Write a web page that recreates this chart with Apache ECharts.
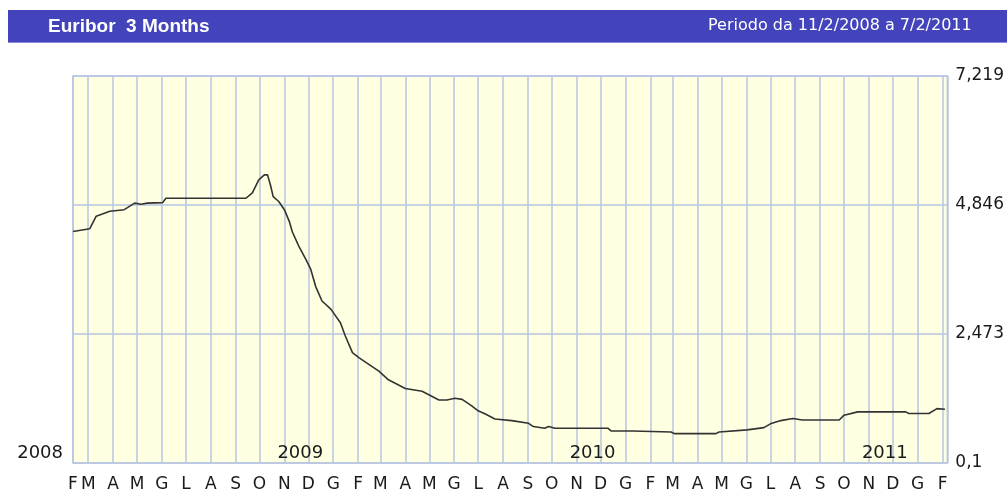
<!DOCTYPE html>
<html>
<head>
<meta charset="utf-8">
<script src="https://cdn.jsdelivr.net/npm/echarts@6/dist/echarts.min.js"></script>
<style>
  html, body { margin: 0; padding: 0; background: #fff; }
  #chart { width: 1007px; height: 493px; }
</style>
</head>
<body>
<div id="chart"></div>
<script>
// Euribor 3 months
const rateDates = [
  '2008-02-11', '2008-03-03', '2008-03-11', '2008-03-28', '2008-04-15', '2008-04-28',
  '2008-05-06', '2008-05-14', '2008-06-02', '2008-06-06', '2008-06-25', '2008-06-27',
  '2008-07-01', '2008-09-14', '2008-09-22', '2008-09-30', '2008-10-07', '2008-10-11',
  '2008-10-15', '2008-10-18', '2008-10-25', '2008-11-01', '2008-11-07', '2008-11-11',
  '2008-11-19', '2008-11-28', '2008-12-04', '2008-12-10', '2008-12-18', '2008-12-29',
  '2009-01-10', '2009-01-16', '2009-01-25', '2009-02-02', '2009-02-14', '2009-02-27',
  '2009-03-11', '2009-04-01', '2009-04-22', '2009-05-13', '2009-05-23', '2009-06-02',
  '2009-06-11', '2009-06-23', '2009-07-01', '2009-07-10', '2009-07-22', '2009-08-12',
  '2009-09-02', '2009-09-08', '2009-09-22', '2009-09-27', '2009-10-05', '2009-12-10',
  '2009-12-14', '2010-01-10', '2010-01-12', '2010-02-27', '2010-03-03', '2010-04-24',
  '2010-04-28', '2010-06-02', '2010-06-23', '2010-07-01', '2010-07-14', '2010-07-29',
  '2010-08-10', '2010-09-25', '2010-10-01', '2010-10-18', '2010-12-17', '2010-12-21',
  '2011-01-15', '2011-01-25', '2011-02-04'
];
const rateValues = [
  4.36, 4.41, 4.64, 4.73, 4.76, 4.88,
  4.86, 4.88, 4.89, 4.97, 4.97, 4.94,
  4.97, 4.97, 5.07, 5.31, 5.40, 5.40,
  5.19, 5.00, 4.91, 4.76, 4.55, 4.35,
  4.09, 3.84, 3.66, 3.35, 3.08, 2.93,
  2.68, 2.44, 2.13, 2.04, 1.92, 1.79,
  1.63, 1.47, 1.42, 1.26, 1.26, 1.29,
  1.27, 1.15, 1.06, 1.00, 0.91, 0.88,
  0.83, 0.77, 0.74, 0.77, 0.74, 0.74,
  0.69, 0.69, 0.67, 0.67, 0.64, 0.64,
  0.67, 0.71, 0.75, 0.82, 0.88, 0.92,
  0.89, 0.89, 0.98, 1.04, 1.04, 1.01,
  1.01, 1.10, 1.09
];
const monthInitials = ['G', 'F', 'M', 'A', 'M', 'G', 'L', 'A', 'S', 'O', 'N', 'D'];
const yearDates = ['2008-02-11', '2009-01-01', '2010-01-01', '2011-01-01'];
const yearLabels = ['2008', '2009', '2010', '2011'];
const xStart = '2008-02-11';
const xEnd = '2011-02-07';
const yMin = 0.1;
const yMax = 7.219;
const yStep = 2.373;

const gridColor = '#b7c6e2';
const textFont = 'DejaVu Sans';

const chart = echarts.init(document.getElementById('chart'));
const xEndTime = new Date(xEnd).getTime();

chart.setOption({
  animation: false,
  backgroundColor: '#ffffff',
  graphic: [
    { type: 'rect', shape: { x: 8, y: 10, width: 999, height: 33 }, style: { fill: '#4343bb' }, z: 0 },
    { type: 'rect', shape: { x: 8, y: 42, width: 999, height: 1 }, style: { fill: '#8c8ce0' }, z: 0 },
    { type: 'text', left: 48, top: 17, style: { text: 'Euribor  3 Months', fill: '#fff', font: 'bold 19px "Liberation Sans", Arial' }, z: 1 },
    { type: 'text', left: 708, top: 18, style: { text: 'Periodo da 11/2/2008 a 7/2/2011', fill: '#fff', font: '16px "DejaVu Sans"' }, z: 1 }
  ],
  grid: {
    left: 73, right: 57, top: 76, bottom: 29,
    show: true,
    backgroundColor: '#ffffe2',
    borderColor: gridColor,
    borderWidth: 1.5
  },
  xAxis: {
    type: 'time',
    min: xStart,
    max: xEnd,
    minInterval: 28 * 86400000,
    maxInterval: 31 * 86400000,
    splitNumber: 36,
    axisLine: { show: false },
    axisTick: { show: false },
    splitLine: { show: true, lineStyle: { color: gridColor, width: 1.5 } },
    axisLabel: {
      show: true,
      margin: 13,
      color: '#1a1a1a',
      fontFamily: textFont,
      fontSize: 17,
      fontWeight: 'normal',
      showMinLabel: true,
      showMaxLabel: false,
      hideOverlap: false,
      formatter: function (value) {
        if (value >= xEndTime) return '';
        return monthInitials[new Date(value).getMonth()];
      },
      rich: {}
    }
  },
  yAxis: {
    type: 'value',
    position: 'right',
    min: yMin,
    max: yMax,
    interval: yStep,
    axisLine: { show: false },
    axisTick: { show: false },
    splitLine: { show: true, lineStyle: { color: gridColor, width: 1.5 } },
    axisLabel: {
      margin: 8,
      padding: [6, 0, 0, 0],
      color: '#1a1a1a',
      fontFamily: textFont,
      fontSize: 17,
      formatter: v => String(parseFloat(v.toFixed(3))).replace('.', ',')
    }
  },
  series: [
    {
      type: 'line',
      data: rateDates.map((d, i) => [d, rateValues[i]]),
      showSymbol: false,
      symbol: 'none',
      lineStyle: { color: '#333333', width: 1.6 },
      silent: true
    },
    {
      type: 'scatter',
      data: yearDates.map(d => [d, yMin]),
      symbolSize: 0,
      clip: false,
      silent: true,
      itemStyle: { opacity: 1 },
      label: {
        show: true,
        position: 'left',
        distance: 10,
        offset: [0, -10],
        color: '#1a1a1a',
        fontFamily: textFont,
        fontSize: 18,
        formatter: p => yearLabels[p.dataIndex]
      }
    }
  ]
});
</script>
</body>
</html>
